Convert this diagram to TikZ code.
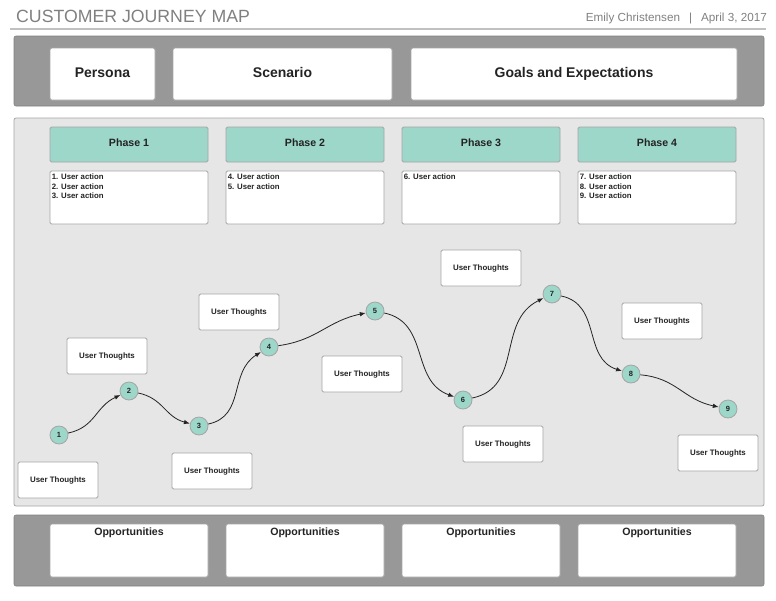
\documentclass[tikz,border=0pt]{standalone}
\usepackage{fontspec}
\setmainfont{Liberation Sans}
\usetikzlibrary{arrows.meta}

\definecolor{bandgray}{RGB}{152,152,152}
\definecolor{panelgray}{RGB}{230,230,230}
\definecolor{edgegray}{RGB}{165,165,165}
\definecolor{titlegray}{RGB}{128,128,128}
\definecolor{phaseteal}{RGB}{156,215,201}
\definecolor{inkdark}{RGB}{35,35,35}

\begin{document}
\begin{tikzpicture}[x=1pt,y=-1pt,>/.tip={Latex[length=6pt,width=4.5pt]},
	every node/.style={text=inkdark},
	band/.style={shape=rectangle,fill=bandgray,draw=bandgray!85!black,line width=0.6pt,rounded corners=2pt,minimum width=750pt},
	card/.style={shape=rectangle,fill=white,draw=edgegray,line width=0.8pt,rounded corners=1.5pt,inner sep=0pt},
	headcard/.style={card,minimum height=52pt,text height=10pt,text depth=4pt,font=\fontsize{14}{16}\selectfont\bfseries},
	phase/.style={card,fill=phaseteal,minimum width=158pt,minimum height=35pt,text height=7.6pt,text depth=3pt,font=\fontsize{10.6}{12}\selectfont\bfseries},
	action/.style={card,minimum width=158pt,minimum height=53pt},
	actiontext/.style={anchor=north west,align=left,inner sep=0pt,font=\fontsize{7.8}{9.6}\selectfont\bfseries},
	thought/.style={card,minimum width=80pt,minimum height=36pt,font=\fontsize{7.9}{9}\selectfont\bfseries},
	opptext/.style={anchor=north,inner sep=0pt,font=\fontsize{10.6}{12}\selectfont\bfseries},
	stepdot/.style={shape=circle,fill=phaseteal,draw=edgegray,line width=0.8pt,minimum size=18pt,inner sep=0pt,font=\fontsize{7.5}{8}\selectfont\bfseries},
	journey/.style={->,inkdark,line width=0.8pt,looseness=1.1}]
	\useasboundingbox (0,0) rectangle (776,600);
	% header
	\draw (16,22.5) node (title) [anchor=base west,inner sep=0pt,text=titlegray,font=\fontsize{17.7}{20}\selectfont] {CUSTOMER JOURNEY MAP};
	\draw (767,21.5) node (author) [anchor=base east,inner sep=0pt,text=titlegray,font=\fontsize{11.7}{13}\selectfont] {Emily Christensen\hspace{9pt}|\hspace{9pt}April 3, 2017};
	\draw[titlegray!50,line width=1.2pt] (10,29) -- (766,29);
	% top band
	\draw (389,71) node (topband) [band,minimum height=70pt] {};
	\draw (102.5,74) node (persona) [headcard,minimum width=105pt] {Persona};
	\draw (282.5,74) node (scenario) [headcard,minimum width=219pt] {Scenario};
	\draw (574,74) node (goals) [headcard,minimum width=326pt] {Goals and Expectations};
	% journey panel
	\draw (389,312) node (panel) [shape=rectangle,fill=panelgray,draw=edgegray,line width=0.8pt,rounded corners=2pt,minimum width=750pt,minimum height=388pt] {};
	\draw (129,144.5) node (ph1) [phase] {Phase 1};
	\draw (305,144.5) node (ph2) [phase] {Phase 2};
	\draw (481,144.5) node (ph3) [phase] {Phase 3};
	\draw (657,144.5) node (ph4) [phase] {Phase 4};
	\draw (129,197.5) node (act1) [action] {};
	\draw (305,197.5) node (act2) [action] {};
	\draw (481,197.5) node (act3) [action] {};
	\draw (657,197.5) node (act4) [action] {};
	\draw (act1.north west) ++(2,3) node (act1t) [actiontext] {1. User action\\2. User action\\3. User action};
	\draw (act2.north west) ++(2,3) node (act2t) [actiontext] {4. User action\\5. User action};
	\draw (act3.north west) ++(2,3) node (act3t) [actiontext] {6. User action};
	\draw (act4.north west) ++(2,3) node (act4t) [actiontext] {7. User action\\8. User action\\9. User action};
	% thoughts
	\draw (58,480) node (th1) [thought] {User Thoughts};
	\draw (107,356) node (th2) [thought] {User Thoughts};
	\draw (212,471) node (th3) [thought] {User Thoughts};
	\draw (239,312) node (th4) [thought] {User Thoughts};
	\draw (362,374) node (th5) [thought] {User Thoughts};
	\draw (503,444) node (th6) [thought] {User Thoughts};
	\draw (481,268) node (th7) [thought] {User Thoughts};
	\draw (662,321) node (th8) [thought] {User Thoughts};
	\draw (718,453) node (th9) [thought] {User Thoughts};
	% steps
	\draw (59,435) node (s1) [stepdot] {1};
	\draw (129,391) node (s2) [stepdot] {2};
	\draw (199,426) node (s3) [stepdot] {3};
	\draw (269,347) node (s4) [stepdot] {4};
	\draw (375,311) node (s5) [stepdot] {5};
	\draw (463,400) node (s6) [stepdot] {6};
	\draw (552,294) node (s7) [stepdot] {7};
	\draw (631,374) node (s8) [stepdot] {8};
	\draw (728,409) node (s9) [stepdot] {9};
	\draw[journey] (s1) to[out=12,in=205] (s2);
	\draw[journey] (s2) to[out=-12,in=165] (s3);
	\draw[journey] (s3) to[out=12,in=212] (s4);
	\draw[journey] (s4) to[out=8,in=192] (s5);
	\draw[journey] (s5) to[out=-12,in=160] (s6);
	\draw[journey] (s6) to[out=12,in=206] (s7);
	\draw[journey] (s7) to[out=-12,in=162] (s8);
	\draw[journey] (s8) to[out=-5,in=168] (s9);
	% bottom band
	\draw (389,550.5) node (botband) [band,minimum height=71pt] {};
	\draw (129,550.5) node (opp1) [action] {};
	\draw (305,550.5) node (opp2) [action] {};
	\draw (481,550.5) node (opp3) [action] {};
	\draw (657,550.5) node (opp4) [action] {};
	\draw (opp1.north) ++(0,4) node (opp1t) [opptext] {Opportunities};
	\draw (opp2.north) ++(0,4) node (opp2t) [opptext] {Opportunities};
	\draw (opp3.north) ++(0,4) node (opp3t) [opptext] {Opportunities};
	\draw (opp4.north) ++(0,4) node (opp4t) [opptext] {Opportunities};
\end{tikzpicture}
\end{document}
